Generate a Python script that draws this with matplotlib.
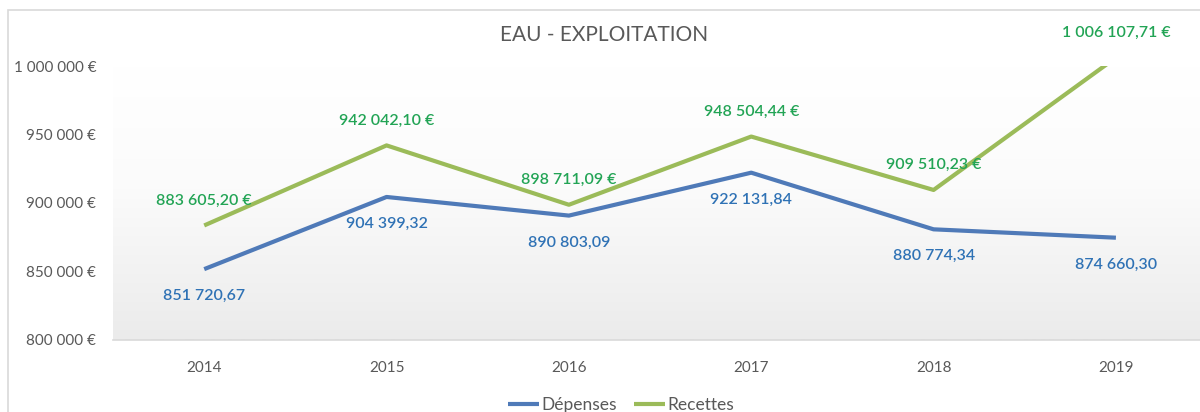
import matplotlib.pyplot as plt
import numpy as np
from matplotlib.patches import Rectangle
from matplotlib.colors import LinearSegmentedColormap

plt.rcParams["font.family"] = ["Lato", "DejaVu Sans"]

years = ["2014", "2015", "2016", "2017", "2018", "2019"]
depenses = [851720.67, 904399.32, 890803.09, 922131.84, 880774.34, 874660.30]
recettes = [883605.20, 942042.10, 898711.09, 948504.44, 909510.23, 1006107.71]
yticks = [800000, 850000, 900000, 950000, 1000000]


def fr(v, decimals=2):
    s = f"{v:,.{decimals}f}"
    return s.replace(",", " ").replace(".", ",")


fig = plt.figure(figsize=(12, 4.12), dpi=100)
ax = fig.add_axes([0.0942, 0.1748, 0.9117, 0.665])

# outer chart border
fig.patches.append(
    Rectangle((8 / 1200, -0.1), 1.2, 1.1 - 10 / 412, transform=fig.transFigure,
              fill=False, edgecolor="#d9d9d9", linewidth=1.2)
)

# plot area gradient (white on top, light gray at the bottom)
grad = np.linspace(1.0, 0.0, 256).reshape(-1, 1)
cmap = LinearSegmentedColormap.from_list(
    "g", [(0, "#ffffff"), (0.45, "#fbfbfb"), (1, "#ebebeb")])
ax.imshow(grad[::-1], extent=[0, 1, 0, 1], transform=ax.transAxes, aspect="auto",
          cmap=cmap, zorder=0)

x = np.arange(len(years))
blue = "#4f7ab8"
green = "#9bbb59"
ax.plot(x, depenses, color=blue, linewidth=3, label="Dépenses", zorder=3,
        solid_capstyle="butt")
ax.plot(x, recettes, color=green, linewidth=3, label="Recettes", zorder=3,
        solid_capstyle="butt")

for xi, v in zip(x, depenses):
    ax.annotate(fr(v), (xi, v), xytext=(0, -27), textcoords="offset pixels",
                ha="center", va="center", color="#2f72b5", fontsize=11.5,
                fontweight="semibold", annotation_clip=False)
for xi, v in zip(x, recettes):
    ax.annotate(fr(v) + " €", (xi, v), xytext=(0, 25), textcoords="offset pixels",
                ha="center", va="center", color="#22a455", fontsize=11.5,
                fontweight="semibold", annotation_clip=False)

ax.set_xlim(-0.5, len(years) - 0.5)
ax.set_ylim(800000, 1000000)
ax.set_xticks(x)
ax.set_xticklabels(years)
ax.set_yticks(yticks)
ax.set_yticklabels([fr(t, 0) + " €" for t in yticks])
ax.tick_params(length=0, labelsize=11, colors="#595959")
ax.tick_params(axis="x", pad=15)
ax.tick_params(axis="y", pad=12)
for s in ["top", "right", "left"]:
    ax.spines[s].set_visible(False)
ax.spines["bottom"].set_color("#d9d9d9")
ax.spines["bottom"].set_linewidth(1.2)

fig.text(604 / 1200, 1 - 35 / 412, "EAU - EXPLOITATION", ha="center", va="center",
         fontsize=15, color="#595959")

ax.legend(loc="center", bbox_to_anchor=(621 / 1200, 1 - 405 / 412),
          bbox_transform=fig.transFigure, ncols=2, frameon=False, fontsize=12.5,
          handlelength=1.8, handletextpad=0.1, columnspacing=1.0,
          labelcolor="#595959")

fig.savefig("out.png", dpi=100)
